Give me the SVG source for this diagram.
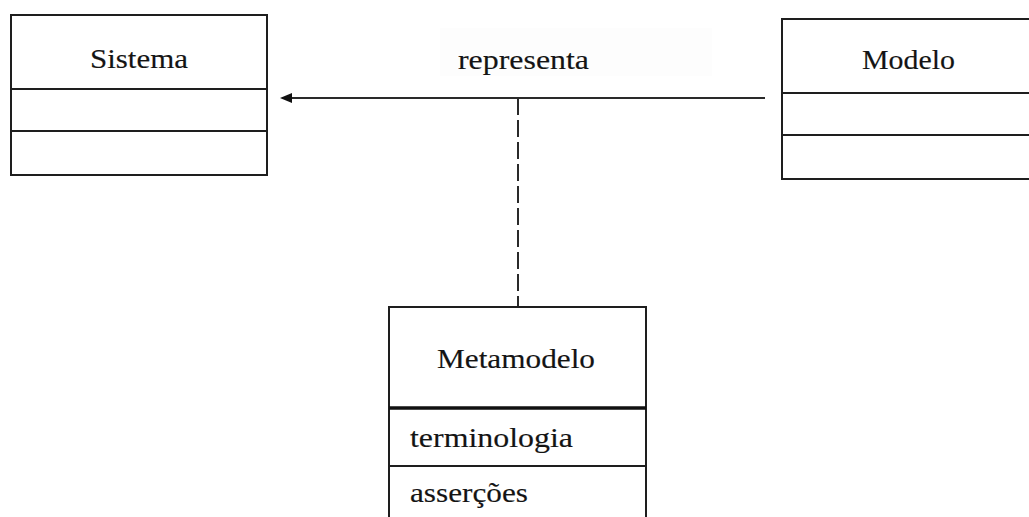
<svg xmlns="http://www.w3.org/2000/svg" width="1029" height="517" viewBox="0 0 1029 517">
  <style>
    .box { fill: #ffffff; stroke: #1e1e1e; stroke-width: 2; }
    .div { stroke: #1e1e1e; stroke-width: 2; }
    .thick { stroke: #111111; stroke-width: 3.5; }
    .title { font-family: "Liberation Serif", "Times New Roman", serif; font-size: 27px; fill: #141414; stroke: #141414; stroke-width: 0.15; }
    .link { stroke: #2a2a2a; stroke-width: 2; fill: none; }
    .dashed { stroke: #2a2a2a; stroke-width: 2; stroke-dasharray: 17 5; fill: none; }
  </style>
  <defs>
    <marker id="arrow" viewBox="0 0 12 10" refX="0" refY="5" markerWidth="12" markerHeight="10" markerUnits="userSpaceOnUse" orient="auto-start-reverse">
      <path d="M0,0 L12,5 L0,10 Z" fill="#111111"/>
    </marker>
  </defs>
  <rect width="1029" height="517" fill="#ffffff"/>

  <!-- association connectors -->
  <g id="connectors">
    <rect x="440" y="28" width="272" height="48" fill="#fdfdfd"/>
    <line class="link" x1="765" y1="98" x2="292" y2="98" marker-end="url(#arrow)"/>
    <line class="dashed" x1="518" y1="98" x2="518" y2="306"/>
    <text class="title" x="458" y="69" textLength="131" lengthAdjust="spacingAndGlyphs">representa</text>
  </g>

  <g id="sistema">
    <rect class="box" x="11" y="15" width="256" height="160"/>
    <line class="div" x1="11" y1="89" x2="267" y2="89"/>
    <line class="div" x1="11" y1="131" x2="267" y2="131"/>
    <text class="title" x="90" y="68" textLength="98" lengthAdjust="spacingAndGlyphs">Sistema</text>
  </g>

  <g id="modelo">
    <rect class="box" x="782" y="19" width="260" height="160"/>
    <line class="div" x1="782" y1="93" x2="1029" y2="93"/>
    <line class="div" x1="782" y1="135" x2="1029" y2="135"/>
    <text class="title" x="862" y="69" textLength="93" lengthAdjust="spacingAndGlyphs">Modelo</text>
  </g>

  <g id="metamodelo">
    <rect class="box" x="389" y="307" width="257" height="230"/>
    <line class="thick" x1="389" y1="408" x2="646" y2="408"/>
    <line class="div" x1="389" y1="466" x2="646" y2="466"/>
    <text class="title" x="437" y="368" textLength="158" lengthAdjust="spacingAndGlyphs">Metamodelo</text>
    <text class="title" x="410" y="447" textLength="163" lengthAdjust="spacingAndGlyphs">terminologia</text>
    <text class="title" x="410" y="502" textLength="118" lengthAdjust="spacingAndGlyphs">asserções</text>
  </g>
</svg>
